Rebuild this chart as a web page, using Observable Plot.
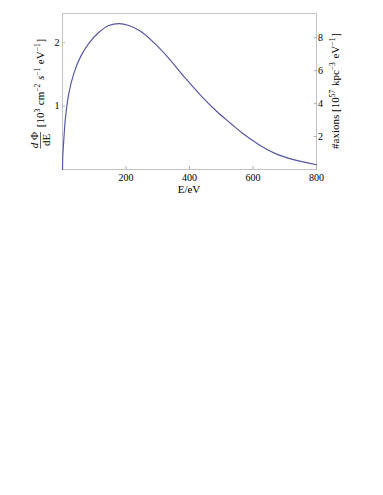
<!DOCTYPE html>
<html>
<head>
<meta charset="utf-8">
<script src="https://cdn.jsdelivr.net/npm/d3@7"></script>
<script src="https://cdn.jsdelivr.net/npm/@observablehq/plot@0.6"></script>
<style>
  html, body { margin: 0; padding: 0; background: #fff; }
  svg { display: block; }
  svg text { font-family: "Liberation Serif", "Times New Roman", serif; }
</style>
</head>
<body>
<div id="chart"></div>
<script>
// Energy (eV) and flux dPhi/dE [10^3 cm^-2 s^-1 eV^-1]
const energy = [0, 1, 2, 4, 9, 20, 36, 57, 83, 114, 146, 178, 209, 246, 288, 330, 382, 435, 487, 529, 566, 619, 671, 724, 800];
const flux   = [0, 0.22, 0.31, 0.46, 0.8, 1.2, 1.52, 1.78, 1.99, 2.16, 2.27, 2.30, 2.27, 2.18, 2.00, 1.78, 1.47, 1.17, 0.91, 0.73, 0.575, 0.39, 0.25, 0.16, 0.075];

const xTicks = [200, 400, 600, 800];
const yTicks = [1, 2];
const rightTicks = [2, 4, 6, 8];      // #axions [10^57 kpc^-3 eV^-1]
const rightPerLeft = 3.85;            // ratio of right axis units to left axis units

const data = energy.map((e, i) => ({e, v: flux[i]}));
const font = "Liberation Serif, Times New Roman, serif";

const plot = Plot.plot({
  width: 383,
  height: 495,
  marginLeft: 62,
  marginRight: 67,
  marginTop: 13,
  marginBottom: 326,
  style: {fontFamily: font, fontSize: "10px", background: "#fff", color: "#000"},
  x: {domain: [0, 800]},
  y: {domain: [0, 2.46]},
  marks: [
    Plot.frame({stroke: "#c4c4c4"}),
    Plot.axisX(xTicks, {tickSize: -3, stroke: "#b0b0b0", text: null, label: null}),
    Plot.axisX(xTicks, {tickSize: 0, tickPadding: 4.5, label: null, fill: "#000", fontFamily: font, fontSize: 10,
      tickFormat: d => String(d)}),
    Plot.axisY(yTicks, {tickSize: -3, stroke: "#b0b0b0", text: null, label: null}),
    Plot.axisY(yTicks, {tickSize: 0, tickPadding: 3, label: null, fill: "#000", fontFamily: font, fontSize: 10,
      tickFormat: d => String(d)}),
    Plot.axisY(rightTicks.map(r => r / rightPerLeft), {anchor: "right", tickSize: -3, stroke: "#b0b0b0", text: null, label: null}),
    Plot.axisY(rightTicks.map(r => r / rightPerLeft), {anchor: "right", tickSize: 0, tickPadding: 1.5, label: null, fill: "#000",
      fontFamily: font, fontSize: 10, tickFormat: d => String(Math.round(d * rightPerLeft))}),
    Plot.line(data, {x: "e", y: "v", curve: "catmull-rom", stroke: "#5454a6", strokeWidth: 1.15})
  ]
});
document.getElementById("chart").appendChild(plot);

// Axis labels with superscripts, added as real SVG text
const svg = d3.select(plot);
const lab = svg.append("g").attr("font-family", font).attr("font-size", 11).attr("fill", "#000");

function sup(t, s) {
  t.append("tspan").attr("dy", -4).attr("font-size", 7.5).text(s);
  t.append("tspan").attr("dy", 4).text("\u200a");
}

// x label
lab.append("text").attr("x", 189).attr("y", 193).attr("text-anchor", "middle").text("E/eV");

// left label
const gl = lab.append("g");
const t1 = gl.append("text").attr("transform", "translate(44,83) rotate(-90)").attr("text-anchor", "middle");
t1.append("tspan").text("[10");
sup(t1, "3");
t1.append("tspan").text(" cm");
sup(t1, "\u22122");
t1.append("tspan").text(" ");
t1.append("tspan").attr("font-style", "italic").text("s");
sup(t1, "\u22121");
t1.append("tspan").text(" eV");
sup(t1, "\u22121");
t1.append("tspan").text("]");

const num = gl.append("text").attr("transform", "translate(38,140) rotate(-90)").attr("text-anchor", "middle");
num.append("tspan").attr("font-style", "italic").text("d");
num.append("tspan").text(" \u03a6");
gl.append("text").attr("transform", "translate(49.5,140) rotate(-90)").attr("text-anchor", "middle").text("dE");
gl.append("line").attr("x1", 40.5).attr("x2", 40.5).attr("y1", 132).attr("y2", 148.5)
  .attr("stroke", "#000").attr("stroke-width", 0.6);

// right label
const t2 = lab.append("text").attr("transform", "translate(338.5,91) rotate(-90)").attr("text-anchor", "middle");
t2.append("tspan").text("#axions [10");
sup(t2, "57");
t2.append("tspan").text(" kpc");
sup(t2, "\u22123");
t2.append("tspan").text(" eV");
sup(t2, "\u22121");
t2.append("tspan").text("]");
</script>
</body>
</html>
